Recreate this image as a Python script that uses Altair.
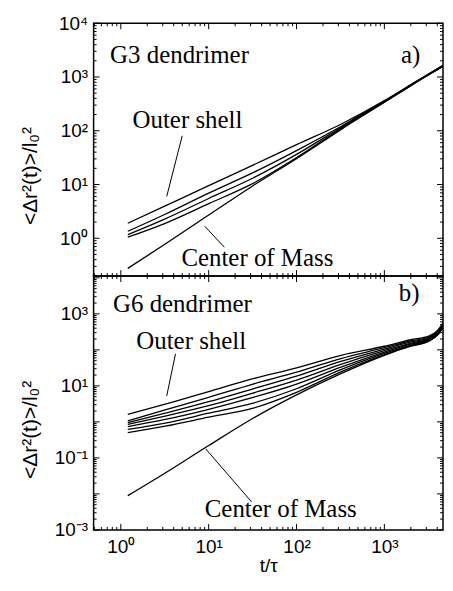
import altair as alt
import pandas as pd

# ---------------- data ----------------
G3_T = [1.2, 3.2, 10, 32, 100, 320, 1000, 2000, 4800]
G3_OUTER = [1.9, 4.0, 9.5, 23, 55, 132, 363, 724, 1700]
G3_SHELL2 = [1.35, 2.8, 6.9, 16.6, 42.7, 120, 355, 708, 1660]
G3_SHELL3 = [1.17, 2.3, 5.5, 13.2, 36.3, 115, 347, 708, 1660]
G3_SHELL4 = [1.05, 1.9, 4.4, 10.5, 31.6, 110, 339, 692, 1620]
G3_COM = [0.275, 0.78, 2.7, 9.5, 30.2, 105, 339, 692, 1620]

G6_T = [1.2, 3.2, 10, 32, 100, 320, 1000, 2000, 3200, 4000, 4800]
G6_OUTER = [1.62, 3.09, 6.92, 15.8, 31.6, 70.8, 126, 191, 240, 340, 631]
G6_SHELL2 = [1.07, 2.14, 4.79, 11.2, 24.0, 57.5, 115, 178, 224, 318, 603]
G6_SHELL3 = [0.95, 1.74, 3.63, 8.32, 18.6, 47.9, 105, 166, 214, 305, 575]
G6_SHELL4 = [0.85, 1.45, 2.82, 6.31, 14.5, 39.8, 95.5, 155, 204, 292, 550]
G6_SHELL5 = [0.74, 1.17, 2.24, 4.79, 11.2, 33.1, 87.1, 145, 195, 280, 525]
G6_SHELL6 = [0.62, 0.93, 1.74, 3.31, 8.32, 28.2, 79.4, 135, 186, 268, 501]
G6_SHELL7 = [0.50, 0.76, 1.35, 2.40, 6.61, 24.5, 74.1, 129, 178, 258, 479]
G6_COM = [0.0089, 0.038, 0.22, 1.26, 5.62, 21.9, 70.8, 126, 174, 252, 468]

X_LABEL_TICKS = [1, 10, 100, 1000]
TOP_Y_LABEL_TICKS = [1, 10, 100, 1000, 10000]
BOT_Y_LABEL_TICKS = [0.001, 0.1, 10, 1000]

X_DOMAIN = [0.49, 4650]
TOP_Y_DOMAIN = [0.198, 10000]
BOT_Y_DOMAIN = [0.001, 11200]

Y_TITLE = "<Δr²(t)>/l₀²"
X_TITLE = "t/τ"

TOP_NOTES = ["G3 dendrimer", "Outer shell", "Center of Mass"]
TOP_NOTES_X = [0.755, 1.36, 4.89]
TOP_NOTES_Y = [1820, 114, 0.303]
TOP_TAG = ["a)"]
TOP_TAG_X = [2570]
TOP_TAG_Y = [1820]
TOP_PTR_X1 = [5.0, 9.03]
TOP_PTR_Y1 = [80.8, 1.67]
TOP_PTR_X2 = [3.33, 15.1]
TOP_PTR_Y2 = [6.0, 0.68]

BOT_NOTES = ["G6 dendrimer", "Outer shell", "Center of Mass"]
BOT_NOTES_X = [0.815, 1.5, 9.03]
BOT_NOTES_Y = [1136, 106, 0.0023]
BOT_TAG = ["b)"]
BOT_TAG_X = [2510]
BOT_TAG_Y = [2300]
BOT_PTR_X1 = [4.19, 9.26]
BOT_PTR_Y1 = [77.4, 0.178]
BOT_PTR_X2 = [3.33, 30.8]
BOT_PTR_Y2 = [5.27, 0.006]

# ---------------- helpers ----------------
W = 351
TOP_H = 254
BOT_H = 255
SERIF = "Liberation Serif"
SANS = "Liberation Sans"

LABEL_EXPR = (
    "'10' + (round(log(datum.value)/LN10) < 0 ? '⁻' : '') + "
    "substring('⁰¹²³⁴⁵⁶⁷⁸⁹', abs(round(log(datum.value)/LN10)), "
    "abs(round(log(datum.value)/LN10)) + 1)"
)


def long_frame(t, curves):
    rows = []
    for name, vals in curves.items():
        for tt, v in zip(t, vals):
            rows.append({"t": tt, "msd": v, "curve": name})
    return pd.DataFrame(rows)


def decade_ticks(lo, hi):
    majors, minors = [], []
    for e in range(-4, 6):
        for k in range(1, 10):
            v = k * 10.0 ** e
            if lo * 0.999 <= v <= hi * 1.001:
                (majors if k == 1 else minors).append(v)
    return majors, minors


def tick_layers(xs, ys, height, xsc, ysc, xax, yax):
    layers = []
    xmaj, xmin = xs
    ymaj, ymin = ys
    for vals, ln in ((xmaj, 6), (xmin, 3)):
        d = pd.DataFrame({"v": vals})
        layers.append(alt.Chart(d).mark_rule(color="black", strokeWidth=1).encode(
            x=alt.X("v:Q", scale=xsc, axis=xax),
            y=alt.value(height), y2=alt.value(height - ln)))
        layers.append(alt.Chart(d).mark_rule(color="black", strokeWidth=1).encode(
            x=alt.X("v:Q", scale=xsc, axis=xax),
            y=alt.value(0), y2=alt.value(ln)))
    for vals, ln in ((ymaj, 6), (ymin, 3)):
        d = pd.DataFrame({"v": vals})
        layers.append(alt.Chart(d).mark_rule(color="black", strokeWidth=1).encode(
            y=alt.Y("v:Q", scale=ysc, axis=yax),
            x=alt.value(0), x2=alt.value(ln)))
        layers.append(alt.Chart(d).mark_rule(color="black", strokeWidth=1).encode(
            y=alt.Y("v:Q", scale=ysc, axis=yax),
            x=alt.value(W), x2=alt.value(W - ln)))
    return layers


def panel(df, ydomain, ylabels, height, show_x, title_y,
          notes, nx, ny, tag, tx, ty, px1, py1, px2, py2):
    xsc = alt.Scale(type="log", domain=X_DOMAIN)
    ysc = alt.Scale(type="log", domain=ydomain)
    if show_x:
        xax = alt.Axis(values=X_LABEL_TICKS, labelExpr=LABEL_EXPR, ticks=False,
                       domain=False, grid=False, title=X_TITLE, labelFont=SANS,
                       labelFontSize=19, labelPadding=8, labelColor="black",
                       titleFont=SANS, titleFontSize=19, titleFontWeight="normal",
                       titleColor="black", titlePadding=0)
    else:
        xax = None
    yax = alt.Axis(values=ylabels, labelExpr=LABEL_EXPR, ticks=False, domain=False,
                   grid=False, title=Y_TITLE, labelFont=SANS, labelFontSize=19,
                   labelPadding=6, labelColor="black", titleFont=SANS,
                   titleFontSize=21, titleFontWeight="normal", titleColor="black",
                   titleAngle=270, titleX=-63, titleY=title_y,
                   titleBaseline="middle", titleAlign="center")
    lines = alt.Chart(df).mark_line(color="black", strokeWidth=1.3, clip=True,
                                    interpolate="monotone").encode(
        x=alt.X("t:Q", scale=xsc, axis=xax),
        y=alt.Y("msd:Q", scale=ysc, axis=yax),
        detail="curve:N")
    txt = alt.Chart(pd.DataFrame({"label": notes, "x": nx, "y": ny})).mark_text(
        font=SERIF, fontSize=25, align="left", baseline="alphabetic", color="black"
    ).encode(x=alt.X("x:Q", scale=xsc, axis=xax),
             y=alt.Y("y:Q", scale=ysc, axis=yax), text="label:N")
    tagm = alt.Chart(pd.DataFrame({"label": tag, "x": tx, "y": ty})).mark_text(
        font=SERIF, fontSize=25, align="right", baseline="alphabetic", color="black"
    ).encode(x=alt.X("x:Q", scale=xsc, axis=xax),
             y=alt.Y("y:Q", scale=ysc, axis=yax), text="label:N")
    ptr = alt.Chart(pd.DataFrame({"x1": px1, "y1": py1, "x2": px2, "y2": py2})).mark_rule(
        color="black", strokeWidth=1
    ).encode(x=alt.X("x1:Q", scale=xsc, axis=xax), x2="x2:Q",
             y=alt.Y("y1:Q", scale=ysc, axis=yax), y2="y2:Q")
    ticks = tick_layers(decade_ticks(*X_DOMAIN), decade_ticks(*ydomain), height,
                        xsc, ysc, xax, yax)
    return alt.layer(lines, txt, tagm, ptr, *ticks).properties(width=W, height=height)


g3 = long_frame(G3_T, {"outer": G3_OUTER, "s2": G3_SHELL2, "s3": G3_SHELL3,
                       "s4": G3_SHELL4, "com": G3_COM})
g6 = long_frame(G6_T, {"outer": G6_OUTER, "s2": G6_SHELL2, "s3": G6_SHELL3,
                       "s4": G6_SHELL4, "s5": G6_SHELL5, "s6": G6_SHELL6,
                       "s7": G6_SHELL7, "com": G6_COM})

top = panel(g3, TOP_Y_DOMAIN, TOP_Y_LABEL_TICKS, TOP_H, False, 153,
            TOP_NOTES, TOP_NOTES_X, TOP_NOTES_Y, TOP_TAG, TOP_TAG_X, TOP_TAG_Y,
            TOP_PTR_X1, TOP_PTR_Y1, TOP_PTR_X2, TOP_PTR_Y2)
bot = panel(g6, BOT_Y_DOMAIN, BOT_Y_LABEL_TICKS, BOT_H, True, 154,
            BOT_NOTES, BOT_NOTES_X, BOT_NOTES_Y, BOT_TAG, BOT_TAG_X, BOT_TAG_Y,
            BOT_PTR_X1, BOT_PTR_Y1, BOT_PTR_X2, BOT_PTR_Y2)

chart = alt.vconcat(top, bot, spacing=0, bounds="flush").properties(
    padding={"left": 11, "top": 4, "right": 0, "bottom": 0},
    background="white",
).configure_view(stroke="black", strokeWidth=1.5)

chart.save("out.html", embed_options={"renderer": "svg", "actions": False})
